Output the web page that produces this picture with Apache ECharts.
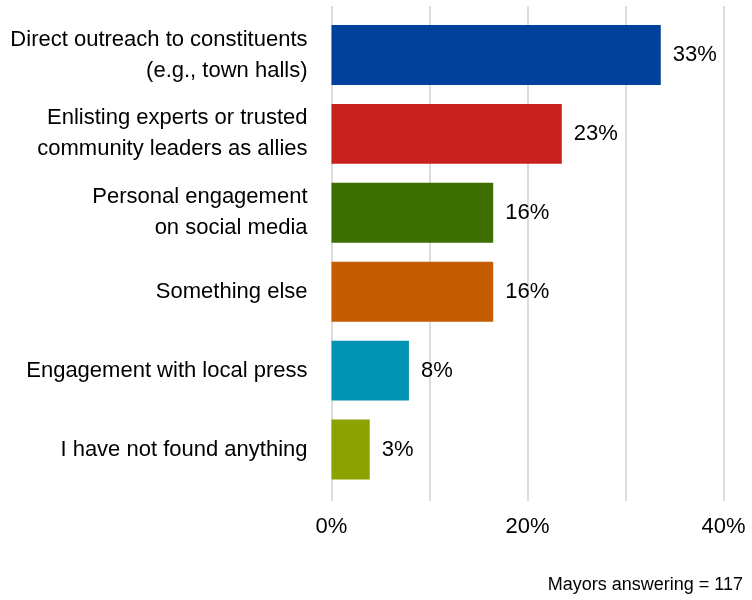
<!DOCTYPE html>
<html><head><meta charset="utf-8">
<script src="https://cdn.jsdelivr.net/npm/echarts@6/dist/echarts.min.js"></script>
<style>html,body{margin:0;padding:0;background:#fff}#c{width:752px;height:600px}</style>
</head><body><div id="c"></div>
<script>
const categories = [
  "Direct outreach to constituents\n(e.g., town halls)",
  "Enlisting experts or trusted\ncommunity leaders as allies",
  "Personal engagement\non social media",
  "Something else",
  "Engagement with local press",
  "I have not found anything"
];
const values = [33.6, 23.5, 16.5, 16.5, 7.9, 3.9];
const valueLabels = ["33%", "23%", "16%", "16%", "8%", "3%"];
const colors = ["#00429B", "#C8211E", "#3D6E00", "#C65C00", "#0093B4", "#8BA200"];
const tickLabels = {0: "0%", 20: "20%", 40: "40%"};
const note = "Mayors answering = 117";

const FONT = "'Liberation Sans Narrow', 'Arial Narrow', 'Liberation Sans', Arial, sans-serif";
const chart = echarts.init(document.getElementById('c'), null, {renderer: 'canvas'});
chart.setOption({
  animation: false,
  textStyle: {fontFamily: FONT},
  grid: [
    {left: 331.5, right: 28.5, top: 15.5, bottom: 111, containLabel: false, outerBoundsMode: 'none'},
    {left: 331.5, right: 28.5, top: 6, bottom: 99, containLabel: false, outerBoundsMode: 'none'}
  ],
  xAxis: [
    {gridIndex: 0, type: 'value', min: 0, max: 40, interval: 10, show: false},
    {gridIndex: 1, type: 'value', min: 0, max: 40, interval: 10,
     axisLine: {show: false}, axisTick: {show: false},
     splitLine: {show: true, lineStyle: {color: '#dcdcdc', width: 2}},
     axisLabel: {fontFamily: FONT, fontSize: 22, color: '#000', margin: 15,
       formatter: v => tickLabels[v] || ''}}
  ],
  yAxis: [
    {gridIndex: 0, type: 'category', inverse: true, data: categories,
     axisLine: {show: false}, axisTick: {show: false},
     axisLabel: {fontFamily: FONT, fontSize: 22, color: '#000', lineHeight: 31, margin: 24, align: 'right'}},
    {gridIndex: 1, type: 'value', show: false}
  ],
  series: [{
    type: 'bar', xAxisIndex: 0, yAxisIndex: 0,
    data: values.map((v, i) => ({value: v, itemStyle: {color: colors[i]}})),
    barCategoryGap: '24%',
    label: {show: true, position: 'right', distance: 12, fontFamily: FONT, fontSize: 22, color: '#000',
      formatter: p => valueLabels[p.dataIndex]}
  }],
  graphic: [{
    type: 'text', right: 9, bottom: 6,
    style: {text: note, fontFamily: FONT, fontSize: 18, fill: '#000'}
  }]
});
</script></body></html>
